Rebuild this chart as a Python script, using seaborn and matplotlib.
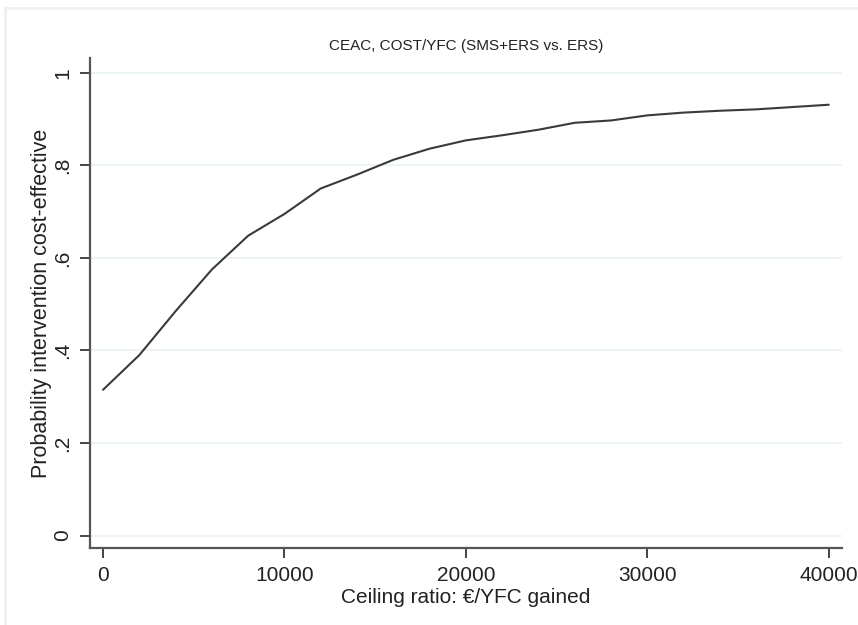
import matplotlib
matplotlib.use("Agg")
import matplotlib.pyplot as plt
import seaborn as sns
import pandas as pd
from matplotlib.lines import Line2D

ceiling_ratio = [0, 2000, 4000, 6000, 8000, 10000, 12000, 14000, 16000, 18000,
                 20000, 22000, 24000, 26000, 28000, 30000, 32000, 34000, 36000,
                 38000, 40000]
prob_ce = [0.315, 0.390, 0.485, 0.575, 0.648, 0.695, 0.750, 0.780, 0.812, 0.836,
           0.854, 0.865, 0.877, 0.892, 0.897, 0.908, 0.914, 0.918, 0.921,
           0.926, 0.931]
x_ticks = [0, 10000, 20000, 30000, 40000]
y_ticks = [0, 0.2, 0.4, 0.6, 0.8, 1.0]
y_tick_labels = ["0", ".2", ".4", ".6", ".8", "1"]

ceac = pd.DataFrame({"ceiling": ceiling_ratio, "prob": prob_ce})

sns.set_style("white")
plt.rcParams['font.family'] = ['Liberation Sans', 'DejaVu Sans']

fig = plt.figure(figsize=(8.58, 6.25), dpi=100)
ax = fig.add_axes([0.105, 0.1232, 0.876, 0.784])

# faint frame of the screenshot
fig.add_artist(Line2D([0.006, 1.0], [0.987, 0.987], transform=fig.transFigure,
                      color="#eef1f4", lw=2))
fig.add_artist(Line2D([0.006, 0.006], [0.0, 0.987], transform=fig.transFigure,
                      color="#eef1f4", lw=2))

for yv in y_ticks:
    ax.axhline(yv, color="#eaf2f2", lw=1.2, zorder=0)

sns.lineplot(data=ceac, x="ceiling", y="prob", ax=ax, color="#3a3a3a", lw=1.5)

ax.set_xlim(-716, 40716)
ax.set_ylim(-0.027, 1.032)
ax.set_xticks(x_ticks)
ax.set_xticklabels([str(v) for v in x_ticks], fontsize=15, color="#222222")
ax.set_yticks(y_ticks)
ax.set_yticklabels(y_tick_labels, fontsize=15, color="#222222", rotation=90,
                   va="center")

for side in ["top", "right"]:
    ax.spines[side].set_visible(False)
for side in ["left", "bottom"]:
    ax.spines[side].set_color("#555555")
    ax.spines[side].set_linewidth(1.6)
ax.tick_params(axis="both", length=7, width=1.4, color="#444444", pad=6,
               left=True, bottom=True)

ax.set_xlabel("Ceiling ratio: €/YFC gained", fontsize=15, color="#222222",
              labelpad=2)
ax.set_ylabel("Probability intervention cost-effective", fontsize=15.5,
              color="#222222", labelpad=1)
ax.set_title("CEAC, COST/YFC (SMS+ERS vs. ERS)", fontsize=11, color="#222222",
             pad=6)

fig.savefig("out.png", dpi=100, facecolor="white")
